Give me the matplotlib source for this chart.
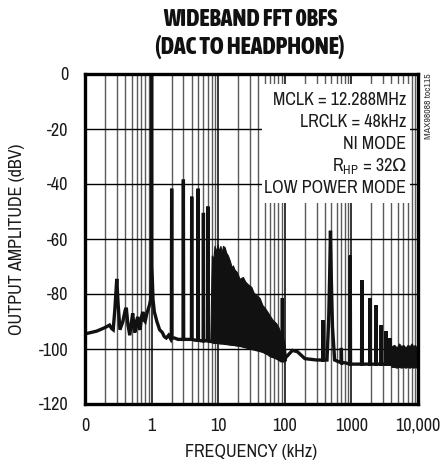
import matplotlib
matplotlib.use("Agg")
import matplotlib.pyplot as plt
from matplotlib import font_manager
from matplotlib.patches import Rectangle
from matplotlib.ticker import FixedLocator, NullFormatter

# ---------------- data ----------------
trace_freq_khz = [
    0.10, 0.15, 0.20, 0.234, 0.25, 0.265, 0.28, 0.30, 0.315, 0.335, 0.37, 0.40, 0.417, 0.44,
    0.47, 0.50, 0.52, 0.545, 0.56, 0.59, 0.62, 0.645, 0.67, 0.71, 0.74, 0.77, 0.80, 0.85,
    0.93, 0.97, 0.99, 1.00, 1.01, 1.05, 1.10, 1.20, 1.32, 1.45, 1.55, 1.66, 1.80, 1.95,
    1.98, 2.00, 2.02, 2.2, 2.5, 2.97, 3.00, 3.03, 3.5, 3.96, 4.00, 4.04, 4.5, 4.95, 5.00,
    5.05, 5.5, 5.94, 6.00, 6.06, 6.5, 6.93, 7.00, 7.07, 7.5, 10, 20, 50, 90, 91.5, 92,
    92.5, 100, 130, 155, 200, 300, 370, 373, 376, 430, 455, 470, 485, 500, 520, 560, 700,
    707, 714, 800, 950, 960, 970, 1200, 1420, 1440, 1460, 1700, 1890, 1910, 1930, 2150,
    2330, 2350, 2370, 2600, 2780, 2800, 2820, 3100, 3280, 3300, 3320, 3550, 3770, 3800,
    3830, 4000,
]
trace_level_dbv = [
    -94.5, -93.5, -92.2, -91.3, -92.5, -93.0, -86.0, -74.5, -84.0, -93.0, -90.0, -86.0, -85.0, -91.0,
    -95.0, -90.0, -87.0, -92.0, -94.0, -90.0, -88.3, -92.0, -93.0, -88.0, -86.5, -89.5, -90.0, -87.0,
    -84.0, -82.0, -70.0, 0.0, -70.0, -82.0, -86.5, -90.0, -93.0, -94.0, -95.5, -96.0, -95.0, -96.5,
    -96.0, -41.7, -96.0, -96.0, -96.5, -96.5, -38.4, -96.5, -96.5, -96.5, -44.6, -96.5, -96.8, -96.8, -41.7,
    -96.8, -97.0, -97.0, -50.5, -97.0, -97.0, -97.0, -48.2, -97.0, -97.2, -97.5, -98.5, -101.0, -104.0, -100.0, -81.5,
    -100.0, -103.5, -100.5, -101.0, -103.5, -104.0, -104.0, -89.5, -104.0, -104.0, -90.0, -75.0, -57.0, -75.0, -92.0, -104.0, -105.0,
    -99.6, -105.0, -105.0, -105.5, -66.0, -105.5, -105.5, -105.5, -75.0, -105.5, -105.5, -105.5, -81.5, -105.5, -105.5,
    -105.5, -84.0, -105.5, -105.5, -105.5, -91.3, -105.5, -105.5, -105.5, -93.5, -105.5, -105.5, -105.5, -96.0,
    -105.5, -105.5,
]

# dense harmonic comb between ~8 kHz and ~100 kHz (upper / lower edge of the black mass)
comb_freq_khz = [7.6, 8.0, 8.5, 8.8, 9.3, 9.8, 10.3, 10.8, 11.3, 11.8, 12.5, 13.2, 14.0, 15.0, 16.0,
                 16.6, 17.5, 19.0, 21.0, 23.5, 25.5, 28.0, 31.4, 34.0, 38.0, 42.0, 46.0, 50.0,
                 55.0, 60.0, 66.0, 74.0, 80.0, 86.0, 95.0, 100.0, 104.0]
comb_upper_dbv = [-97.5, -66.0, -67.0, -62.5, -64.5, -62.0, -64.5, -62.5, -65.0, -62.5, -63.0, -65.0, -66.0, -68.0, -70.5,
                  -69.6, -71.0, -72.0, -74.5, -73.8, -75.5, -76.5, -77.4, -79.5, -80.5, -81.5, -84.0, -85.0,
                  -86.5, -88.0, -89.5, -90.6, -92.0, -94.0, -96.0, -99.0, -103.0]
comb_lower_dbv = [-97.5, -97.5, -97.8, -97.8, -97.8, -97.8, -98.0, -98.0, -98.0, -98.0, -98.2, -98.2, -98.3, -98.4, -98.5,
                  -98.5, -98.6, -98.7, -98.8, -99.0, -99.0, -99.0, -99.0, -99.5, -100.0, -100.5, -101.0, -101.5,
                  -102.0, -102.7, -103.0, -103.5, -104.0, -104.5, -104.5, -104.5, -104.0]

# hash of spurs between ~4 MHz and 10 MHz
hash_freq_khz = [3900, 4000, 4400, 4800, 5200, 5600, 6000, 6500, 7000, 7500, 8000, 8500, 9000, 9500, 10000]
hash_upper_dbv = [-105.5, -99.0, -98.5, -99.5, -98.0, -99.0, -98.5, -99.5, -98.5, -99.0, -98.0, -99.0, -98.5, -99.5, -99.0]
hash_lower_dbv = [-105.5, -106.5, -106.5, -106.8, -106.5, -106.8, -106.5, -106.8, -106.5, -106.8, -106.5, -106.8, -106.5, -106.8, -106.8]

x_tick_values = [0.1, 1, 10, 100, 1000, 10000]
x_tick_labels = ["0", "1", "10", "100", "1000", "10,000"]
y_tick_values = [0, -20, -40, -60, -80, -100, -120]
y_tick_labels = ["0", "-20", "-40", "-60", "-80", "-100", "-120"]

title_lines = ["WIDEBAND FFT 0BFS", "(DAC TO HEADPHONE)"]
x_label = "FREQUENCY (kHz)"
y_label = "OUTPUT AMPLITUDE (dBV)"
note_lines = ["MCLK = 12.288MHz", "LRCLK = 48kHz", "NI MODE", None, "LOW POWER MODE"]
rhp_prefix = r"R$_{\mathregular{HP}}$"
rhp_value = " = 32Ω"
side_tag = "MAX98088 toc115"

# ---------------- fonts ----------------
available = {f.name for f in font_manager.fontManager.ttflist}
if "Archivo Narrow" in available:
    narrow, scale = "Archivo Narrow", 1.0
elif "Liberation Sans Narrow" in available:
    narrow, scale = "Liberation Sans Narrow", 1.0
else:
    narrow, scale = "Liberation Sans", 0.85
if "Asap Condensed" in available:
    title_font, title_weight, tscale = "Asap Condensed", 800, 1.0
else:
    title_font, title_weight, tscale = narrow, "bold", 0.9
plt.rcParams["font.family"] = [narrow, "DejaVu Sans"]
plt.rcParams["mathtext.fontset"] = "custom"
plt.rcParams["mathtext.rm"] = narrow

# ---------------- figure ----------------
W, H = 440, 466
fig = plt.figure(figsize=(W / 100, H / 100), dpi=100)
ax = fig.add_axes([85 / W, 1 - 404 / H, (418 - 85) / W, (404 - 74) / H])
ax.set_xscale("log")
ax.set_xlim(0.1, 10000)
ax.set_ylim(-120, 0)

# grid
minor = [m * 10.0 ** e for e in range(-1, 4) for m in range(2, 10)]
for xv in minor:
    ax.axvline(xv, color="#5a5a5a", lw=1.0, zorder=1)
for xv in x_tick_values[1:-1]:
    ax.axvline(xv, color="black", lw=1.1, zorder=1)
for yv in y_tick_values[1:-1]:
    ax.axhline(yv, color="black", lw=1.0, zorder=1)

# note box (white)
ax.add_patch(Rectangle((0.532, 0.609), 0.444, 0.361, transform=ax.transAxes,
                       facecolor="white", edgecolor="none", zorder=3))
ys = [0.921, 0.855, 0.788, 0.721, 0.655]
note_fs = 13 * scale
for t, yy in zip(note_lines, ys):
    if t is None:
        continue
    ax.text(0.964, yy, t, transform=ax.transAxes, ha="right", va="center",
            fontsize=note_fs, color="#1a1a1a", zorder=4)
val = ax.text(0.964, ys[3], rhp_value, transform=ax.transAxes, ha="right", va="center",
              fontsize=note_fs, color="#1a1a1a", zorder=4)
fig.canvas.draw()
bb = val.get_window_extent(renderer=fig.canvas.get_renderer())
x_left_axes = ax.transAxes.inverted().transform((bb.x0, bb.y0))[0]
ax.text(x_left_axes, ys[3], rhp_prefix, transform=ax.transAxes, ha="right", va="center",
        fontsize=note_fs, color="#1a1a1a", zorder=4)

# data
ax.fill_between(comb_freq_khz, comb_lower_dbv, comb_upper_dbv, color="#111111", lw=0.8, zorder=2)
ax.fill_between(hash_freq_khz, hash_lower_dbv, hash_upper_dbv, color="#111111", lw=0.8, zorder=2)
ax.plot(trace_freq_khz, trace_level_dbv, color="#111111", lw=2.4, solid_joinstyle="miter", zorder=2)

# ticks
ax.xaxis.set_major_locator(FixedLocator(x_tick_values))
ax.xaxis.set_minor_locator(FixedLocator([]))
ax.xaxis.set_minor_formatter(NullFormatter())
ax.set_xticklabels(x_tick_labels)
ax.set_yticks(y_tick_values)
ax.set_yticklabels(y_tick_labels)
ax.tick_params(axis="both", length=0, labelsize=13 * scale, colors="#1a1a1a")
ax.tick_params(axis="x", pad=10)
ax.tick_params(axis="y", pad=12)
for s in ax.spines.values():
    s.set_linewidth(2.4)
    s.set_color("black")
    s.set_zorder(5)

# labels
fig.text(251 / W, 1 - 452 / H, x_label, ha="center", va="center", fontsize=13 * scale, color="#1a1a1a")
fig.text(17 / W, 1 - 239 / H, y_label, ha="center", va="center", rotation=90, fontsize=13 * scale, color="#1a1a1a")
for txt, yp in zip(title_lines, [20, 47]):
    fig.text(250 / W, 1 - yp / H, txt, ha="center", va="center", fontsize=17 * tscale,
             family=[title_font, "DejaVu Sans"], fontweight=title_weight, color="#111111")
fig.text(428 / W, 1 - 73 / H, side_tag, ha="center", va="top", rotation=90, fontsize=7 * scale, color="#333333")

fig.savefig("out.png", dpi=100)
